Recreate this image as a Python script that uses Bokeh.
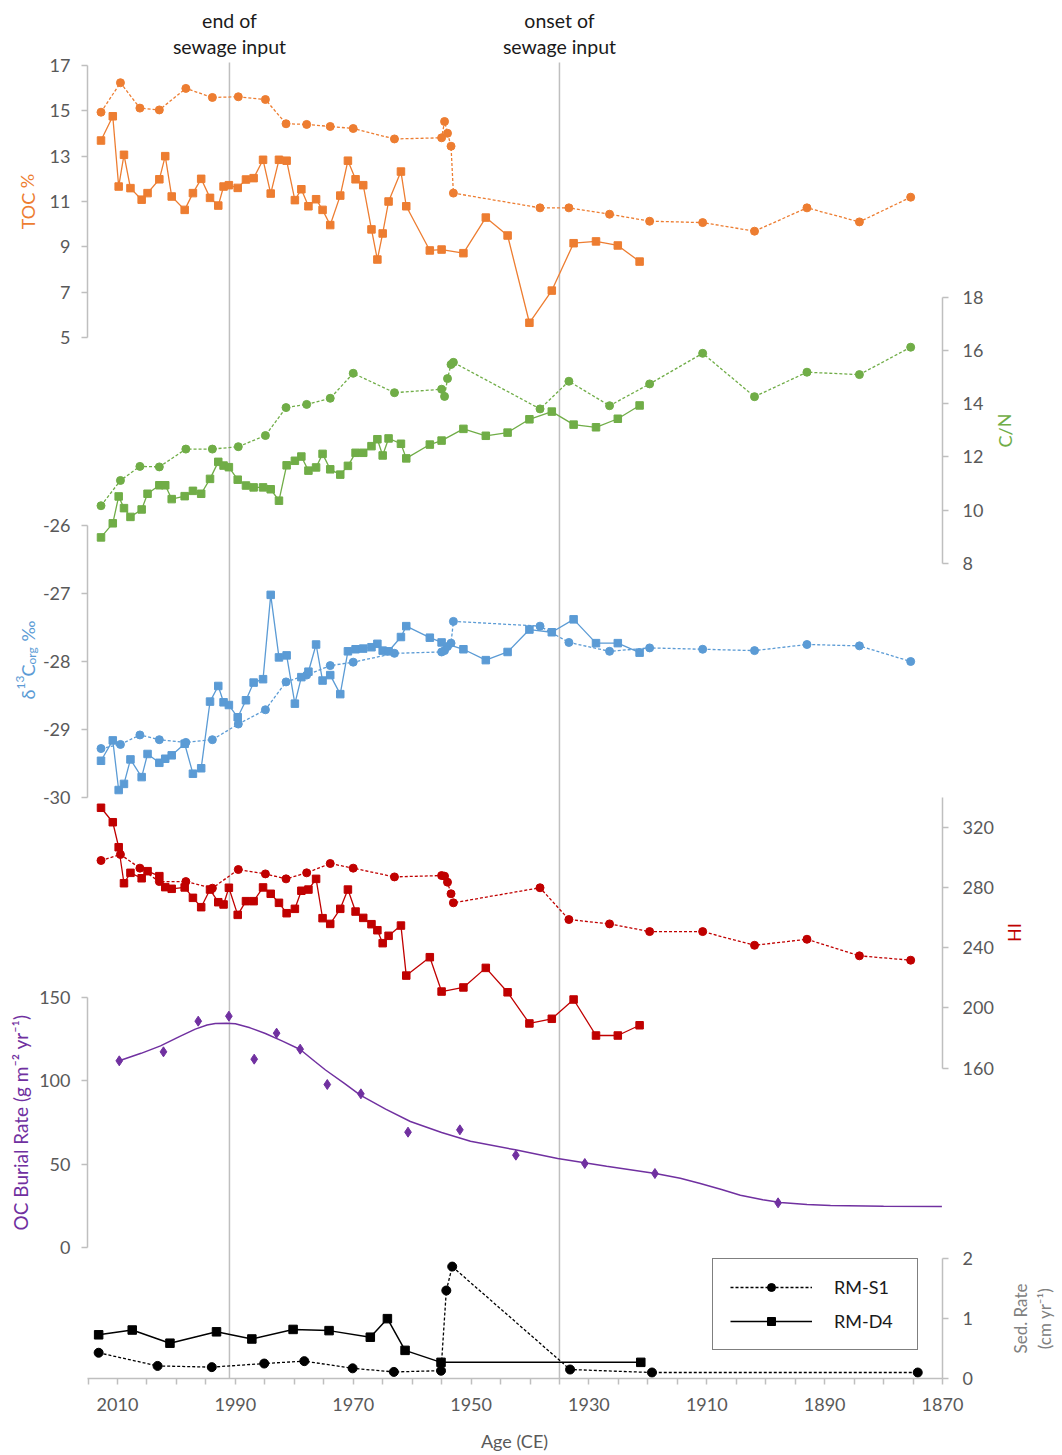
from bokeh.plotting import figure
from bokeh.models import Range1d, LinearAxis, FixedTicker, Label, Legend, LegendItem
from bokeh.embed import file_html
from bokeh.resources import INLINE

# ---------------- data ----------------
s1_age = [2012.8, 2009.5, 2006.2, 2002.9, 1998.4, 1993.9, 1989.5, 1984.9, 1981.4, 1977.9,
          1973.9, 1970.0, 1963.0, 1955.0, 1954.5, 1954.0, 1953.4, 1953.0, 1938.3, 1933.4,
          1926.5, 1919.7, 1910.7, 1901.9, 1893.0, 1884.1, 1875.4]
s1_toc = [14.94, 16.24, 15.12, 15.04, 15.99, 15.59, 15.62, 15.50, 14.43, 14.40,
          14.31, 14.22, 13.76, 13.81, 14.53, 14.01, 13.44, 11.37, 10.72, 10.72,
          10.44, 10.13, 10.07, 9.69, 10.72, 10.10, 11.19]
s1_cn = [10.16, 11.11, 11.64, 11.62, 12.29, 12.29, 12.38, 12.80, 13.85, 13.97,
         14.20, 15.14, 14.41, 14.54, 14.27, 14.94, 15.47, 15.55, 13.80, 14.84,
         13.92, 14.74, 15.89, 14.26, 15.18, 15.09, 16.12]
s1_d13c = [-29.28, -29.22, -29.08, -29.15, -29.19, -29.15, -28.92, -28.71, -28.30, -28.20,
           -28.06, -28.01, -27.88, -27.86, -27.84, -27.78, -27.73, -27.41, -27.48, -27.72,
           -27.85, -27.80, -27.82, -27.84, -27.75, -27.77, -28.00]
s1_hi = [297.9, 301.9, 292.8, 283.9, 283.9, 279.5, 291.9, 289.0, 285.7, 289.7,
         295.9, 292.8, 287.0, 287.9, 287.5, 283.5, 275.8, 269.8, 279.8, 258.7,
         255.8, 250.7, 250.7, 241.6, 245.6, 234.6, 231.7]

d4_age = [2012.8, 2010.8, 2009.8, 2008.9, 2007.8, 2005.9, 2004.9, 2002.9, 2001.9, 2000.8,
          1998.6, 1997.2, 1995.8, 1994.3, 1992.9, 1992.0, 1991.1, 1989.6, 1988.2, 1986.9,
          1985.3, 1984.0, 1982.6, 1981.3, 1979.9, 1978.8, 1977.6, 1976.3, 1975.2, 1973.9,
          1972.2, 1970.9, 1969.6, 1968.3, 1966.9, 1965.9, 1965.0, 1964.0, 1961.9, 1961.0,
          1957.0, 1955.0, 1951.3, 1947.5, 1943.8, 1940.1, 1936.3, 1932.6, 1928.8, 1925.1,
          1921.4]
d4_toc = [13.69, 14.76, 11.66, 13.06, 11.59, 11.08, 11.37, 11.98, 13.00, 11.22,
          10.63, 11.37, 12.00, 11.16, 10.82, 11.66, 11.72, 11.60, 11.97, 12.03,
          12.84, 11.35, 12.84, 12.80, 11.06, 11.54, 10.79, 11.10, 10.63, 9.96,
          11.26, 12.80, 11.98, 11.72, 9.77, 8.44, 9.59, 11.00, 12.32, 10.79,
          8.84, 8.88, 8.72, 10.29, 9.50, 5.65, 7.07, 9.16, 9.24, 9.06,
          8.35]
d4_cn = [8.97, 9.50, 10.51, 10.07, 9.74, 10.02, 10.61, 10.93, 10.93, 10.41,
         10.52, 10.72, 10.61, 11.17, 11.81, 11.67, 11.61, 11.14, 10.92, 10.85,
         10.85, 10.78, 10.35, 11.68, 11.85, 12.01, 11.48, 11.60, 12.11, 11.53,
         11.33, 11.66, 12.15, 12.15, 12.40, 12.66, 12.05, 12.69, 12.49, 11.94,
         12.46, 12.61, 13.05, 12.79, 12.91, 13.41, 13.70, 13.21, 13.11, 13.43,
         13.93]
d4_d13c = [-29.46, -29.16, -29.89, -29.80, -29.44, -29.70, -29.36, -29.49, -29.43, -29.38,
           -29.21, -29.65, -29.57, -28.59, -28.36, -28.60, -28.64, -28.82, -28.57, -28.31,
           -28.26, -27.02, -27.94, -27.91, -28.62, -28.23, -28.15, -27.75, -28.28, -28.20,
           -28.48, -27.85, -27.82, -27.81, -27.79, -27.74, -27.84, -27.85, -27.64, -27.48,
           -27.65, -27.72, -27.82, -27.98, -27.86, -27.53, -27.57, -27.38, -27.73, -27.73,
           -27.87]
d4_hi = [332.9, 323.3, 306.7, 282.8, 289.7, 286.1, 290.8, 287.5, 280.2, 279.1,
         280.0, 273.1, 266.9, 278.6, 270.2, 268.7, 279.8, 261.8, 270.9, 270.9,
         280.0, 275.8, 269.8, 262.9, 265.8, 277.8, 278.6, 285.7, 259.6, 255.8,
         265.8, 278.6, 264.0, 259.8, 255.6, 251.6, 243.0, 247.9, 254.7, 221.5,
         233.7, 210.9, 213.6, 226.6, 210.4, 189.7, 192.8, 205.6, 181.7, 181.7,
         188.5]

oc_age = [2009.7, 2002.2, 1996.3, 1991.1, 1986.8, 1983.0, 1979.0, 1974.4, 1968.7, 1960.7,
          1951.9, 1942.4, 1930.7, 1918.8, 1897.9]
oc_rate = [112.0, 117.4, 135.8, 138.8, 113.0, 128.6, 119.0, 97.8, 92.2, 69.2,
           70.6, 55.4, 50.4, 44.4, 26.8]
oc_fit_age = [2009.7, 2006.0, 2002.7, 1999.5, 1996.8, 1994.8, 1993.4, 1991.5, 1990.0, 1987.5,
              1984.9, 1982.0, 1979.0, 1976.5, 1974.7, 1971.5, 1968.8, 1964.5, 1960.3, 1955.0,
              1950.1, 1942.5, 1935.3, 1927.0, 1918.7, 1914.5, 1911.1, 1907.5, 1904.3, 1900.5,
              1897.5, 1893.0, 1889.0, 1880.0, 1870.1]
oc_fit = [112.0, 116.5, 121.0, 126.5, 131.0, 133.5, 134.4, 134.6, 134.2, 131.8,
          128.4, 123.8, 118.8, 111.6, 106.5, 98.5, 91.4, 83.0, 75.6, 69.0,
          63.8, 58.6, 53.4, 48.8, 44.4, 41.6, 38.4, 34.8, 31.4, 28.6,
          27.0, 25.8, 25.2, 24.7, 24.6]

sed_s1_age = [2013.2, 2003.2, 1994.0, 1985.1, 1978.3, 1970.1, 1963.1, 1955.1, 1954.2, 1953.2,
              1933.2, 1919.3, 1874.2]
sed_s1 = [0.43, 0.21, 0.19, 0.25, 0.29, 0.17, 0.11, 0.13, 1.47, 1.87,
          0.15, 0.10, 0.10]
sed_d4_age = [2013.2, 2007.5, 2001.1, 1993.2, 1987.2, 1980.2, 1974.1, 1967.1, 1964.2, 1961.2,
              1955.1, 1921.2]
sed_d4 = [0.73, 0.81, 0.59, 0.78, 0.66, 0.82, 0.80, 0.69, 1.00, 0.47,
          0.27, 0.27]

event_years = [1991, 1935]
event_text = [("end of", "sewage input"), ("onset of", "sewage input")]

toc_ticks = [5, 7, 9, 11, 13, 15, 17]
cn_ticks = [8, 10, 12, 14, 16, 18]
d13c_ticks = [-30, -29, -28, -27, -26]
hi_ticks = [160, 200, 240, 280, 320]
oc_ticks = [0, 50, 100, 150]
sed_ticks = [0, 1, 2]
age_ticks = list(range(1870, 2016, 5))

# ---------------- styling / layout ----------------
FONT = "Lato"
GREY_AX = "#BFBFBF"
GREY_TX = "#595959"
ORANGE, GREEN, BLUE, RED, PURPLE = "#ED7D31", "#70AD47", "#5B9BD5", "#C00000", "#7030A0"

W, H = 1060, 1453          # the frame fills the whole canvas; rows/columns = canvas pixels
AX_L, AX_R, AX_B = 87, 942, 1378   # pixel positions of the left, right and bottom axis lines


def yr(px):  # canvas column -> age (2010 at column 117, 1870 at column 942)
    return 2010 - (px - 117) * 140 / 825


def rng(v1, r1, v2, r2):
    s = (r2 - r1) / (v2 - v1)
    return Range1d(start=v1 + (H - r1) / s, end=v1 + (0 - r1) / s)


p = figure(width=W, height=H, output_backend="svg", toolbar_location=None,
           x_range=Range1d(yr(0), yr(W)), y_range=Range1d(H, 0),
           x_axis_location=None, y_axis_location=None,
           min_border=0, min_border_left=0, min_border_right=0,
           min_border_top=0, min_border_bottom=0,
           outline_line_color=None)
p.grid.visible = False

p.extra_y_ranges = {
    "toc": rng(17, 65, 5, 337),
    "cn": rng(18, 296.7, 8, 562.7),
    "d13c": rng(-26, 525, -30, 797),
    "hi": rng(320, 826.7, 160, 1067.7),
    "oc": rng(150, 997, 0, 1247),
    "sed": rng(2, 1258.3, 0, AX_B),
}
p.extra_x_ranges = {"px": Range1d(0, W)}

AX_STYLE = dict(axis_line_color=GREY_AX, axis_line_width=1.5,
                major_tick_line_color=GREY_AX, major_tick_line_width=1.5,
                major_tick_in=0, major_tick_out=6, minor_tick_line_color=None,
                major_label_text_color=GREY_TX, major_label_text_font=FONT,
                major_label_text_font_size="18px")

# x axis (age)
xa = LinearAxis(ticker=FixedTicker(ticks=age_ticks), fixed_location=AX_B,
                bounds=(1870, yr(AX_L)), major_label_standoff=13,
                major_label_overrides={t: (str(t) if (2010 - t) % 20 == 0 else "") for t in age_ticks},
                **AX_STYLE)
p.add_layout(xa, "below")


def add_y(name, side, ticks, bounds):
    ax = LinearAxis(y_range_name=name, ticker=FixedTicker(ticks=ticks), bounds=bounds,
                    fixed_location=(yr(AX_L) if side == "left" else yr(AX_R)),
                    major_label_standoff=(11 if side == "left" else 14),
                    major_label_overrides={t: str(t) for t in ticks}, **AX_STYLE)
    p.add_layout(ax, side)


add_y("toc", "left", toc_ticks, (5, 17))
add_y("d13c", "left", d13c_ticks, (-30, -26))
add_y("oc", "left", oc_ticks, (0, 150))
add_y("cn", "right", cn_ticks, (8, 18))
add_y("hi", "right", hi_ticks, (160, 340))
add_y("sed", "right", sed_ticks, (0, 2))

# event lines and their captions
p.segment(x0=event_years, y0=[62] * 2, x1=event_years, y1=[AX_B] * 2,
          line_color=GREY_AX, line_width=1.5)
for yv, (t1, t2) in zip(event_years, event_text):
    for txt, row in ((t1, 20), (t2, 46)):
        p.add_layout(Label(x=yv, y=row, text=txt, text_align="center", text_baseline="middle",
                           text_font=FONT, text_font_size="19.5px", text_color="#1A1A1A"))

DASH = "3 2"


def series(age, vals, rname, color, dashed, marker, size):
    p.line(age, vals, y_range_name=rname, line_color=color, line_width=1.3,
           line_dash=(DASH if dashed else "solid"))
    p.scatter(age, vals, y_range_name=rname, marker=marker, size=size,
              fill_color=color, line_color=color)


series(s1_age, s1_toc, "toc", ORANGE, True, "circle", 8)
series(d4_age, d4_toc, "toc", ORANGE, False, "square", 7.5)
series(s1_age, s1_cn, "cn", GREEN, True, "circle", 8)
series(d4_age, d4_cn, "cn", GREEN, False, "square", 7.5)
series(s1_age, s1_d13c, "d13c", BLUE, True, "circle", 8)
series(d4_age, d4_d13c, "d13c", BLUE, False, "square", 7.5)
series(s1_age, s1_hi, "hi", RED, True, "circle", 8)
series(d4_age, d4_hi, "hi", RED, False, "square", 7.5)

p.line(oc_fit_age, oc_fit, y_range_name="oc", line_color=PURPLE, line_width=1.5)
p.scatter(oc_age, oc_rate, y_range_name="oc", marker="diamond", size=10,
          fill_color=PURPLE, line_color=PURPLE)

l1 = p.line(sed_s1_age, sed_s1, y_range_name="sed", line_color="black", line_width=1.3, line_dash=DASH)
m1 = p.scatter(sed_s1_age, sed_s1, y_range_name="sed", marker="circle", size=9, color="black")
l2 = p.line(sed_d4_age, sed_d4, y_range_name="sed", line_color="black", line_width=1.5)
m2 = p.scatter(sed_d4_age, sed_d4, y_range_name="sed", marker="square", size=8.5, color="black")

legend = Legend(items=[LegendItem(label="RM-S1", renderers=[l1, m1]),
                       LegendItem(label="RM-D4", renderers=[l2, m2])],
                location=(712, H - 1350), glyph_width=82, glyph_height=20,
                label_text_font=FONT, label_text_font_size="18px", label_text_color="#1A1A1A",
                label_width=66, border_line_color="black", border_line_width=1,
                padding=17, spacing=12, label_standoff=22, margin=0)
p.add_layout(legend)


# axis titles as labels (canvas pixel coordinates)
def title(x, y, text, color, size="18px", angle=1.5708, align="center", baseline="middle"):
    p.add_layout(Label(x=x, y=y, x_range_name="px", text=text, angle=angle,
                       text_align=align, text_baseline=baseline,
                       text_font=FONT, text_font_size=size, text_color=color))


title(27, 201, "TOC %", ORANGE)
title(1004, 430, "C/N", GREEN)
title(1013, 932, "HI", RED)
title(20, 1122, "OC Burial Rate (g m\u207b\u00b2 yr\u207b\u00b9)", PURPLE, size="19px")
title(1020, 1318, "Sed. Rate", "#808080", size="17px")
title(1044, 1318, "(cm yr\u207b\u00b9)", "#808080", size="17px")
title(514, 1440, "Age (CE)", GREY_TX, size="18px", angle=0)

# delta 13C org label, composed of pieces (rotated, reading upward)
bx = 27
pieces = [("\u03b4", 699, bx, "18px"), ("13", 689, bx - 7, "12px"), ("C", 676, bx, "18px"),
          ("org", 664, bx + 4, "12px"), ("\u2030", 641, bx, "18px")]
for txt, row, colx, sz in pieces:
    title(colx, row, txt, BLUE, size=sz, align="left", baseline="alphabetic")

open("out.html", "w").write(file_html(p, INLINE))
